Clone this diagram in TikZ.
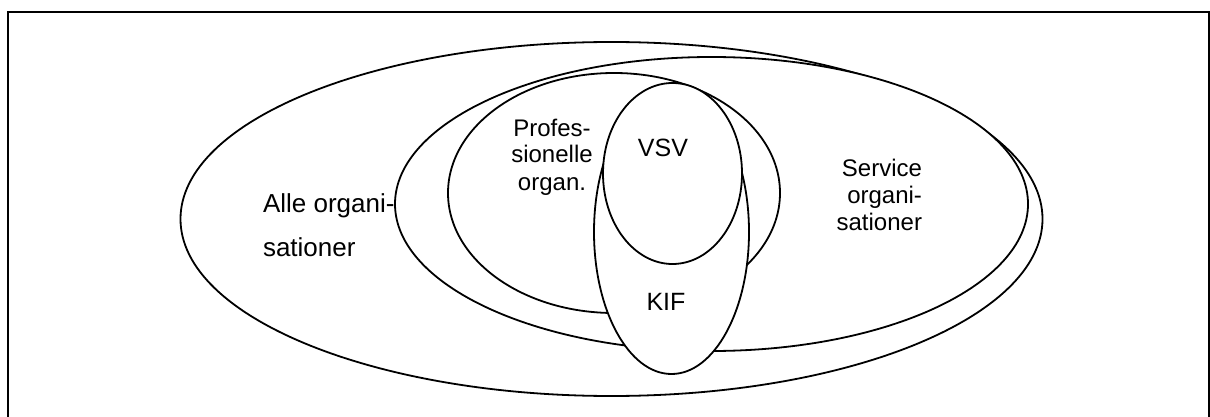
\documentclass[tikz,border=0pt]{standalone}
\usepackage{fontspec}
\setmainfont{Liberation Sans}
\usetikzlibrary{shapes.geometric}
\begin{document}
\begin{tikzpicture}[x=1pt,y=-1pt,
  setshape/.style={ellipse, draw=black, fill=white, line width=1.8pt, inner sep=0pt, outer sep=0pt},
  lbl/.style={inner sep=0pt, outer sep=0pt, text=black},
  frameline/.style={draw=black, line width=1.5pt}]
  \useasboundingbox (0,0) rectangle (1210,417);
  \clip (0,0) rectangle (1210,417);

  % outer frame (bottom edge runs off the page)
  \draw[frameline] (8,440) -- (8,12) -- (1209,12) -- (1209,440);

  % nested sets, drawn from the outside in so each hides what lies beneath
  \node[setshape, minimum width=862pt, minimum height=354pt] (alle)    at (611.5,219)   {};
  \node[setshape, minimum width=633pt, minimum height=294pt] (service) at (711.5,204)   {};
  \node[setshape, minimum width=332pt, minimum height=240pt] (prof)    at (614,193)     {};
  \node[setshape, minimum width=155pt, minimum height=284pt] (kif)     at (671.5,232)   {};
  \node[setshape, minimum width=139pt, minimum height=181pt] (vsv)     at (672.5,173.5) {};

  % labels
  \node[lbl, anchor=base west, font=\fontsize{26}{30}\selectfont] (alleA) at (263,212) {Alle organi-};
  \node[lbl, anchor=base west, font=\fontsize{26}{30}\selectfont] (alleB) at (263,256) {sationer};

  \node[lbl, anchor=base, font=\fontsize{24}{28}\selectfont] (profA) at (552,137) {Profes-};
  \node[lbl, anchor=base, font=\fontsize{24}{28}\selectfont] (profB) at (552,163) {sionelle};
  \node[lbl, anchor=base, font=\fontsize{24}{28}\selectfont] (profC) at (552,190) {organ.};

  \node[lbl, anchor=base east, font=\fontsize{24}{28}\selectfont] (servA) at (922,176) {Service};
  \node[lbl, anchor=base east, font=\fontsize{24}{28}\selectfont] (servB) at (922,203) {organi-};
  \node[lbl, anchor=base east, font=\fontsize{24}{28}\selectfont] (servC) at (922,230) {sationer};

  \node[lbl, anchor=base, font=\fontsize{25}{28}\selectfont] (vsvL) at (663,157) {VSV};
  \node[lbl, anchor=base, font=\fontsize{25}{28}\selectfont] (kifL) at (666,310) {KIF};
\end{tikzpicture}
\end{document}
